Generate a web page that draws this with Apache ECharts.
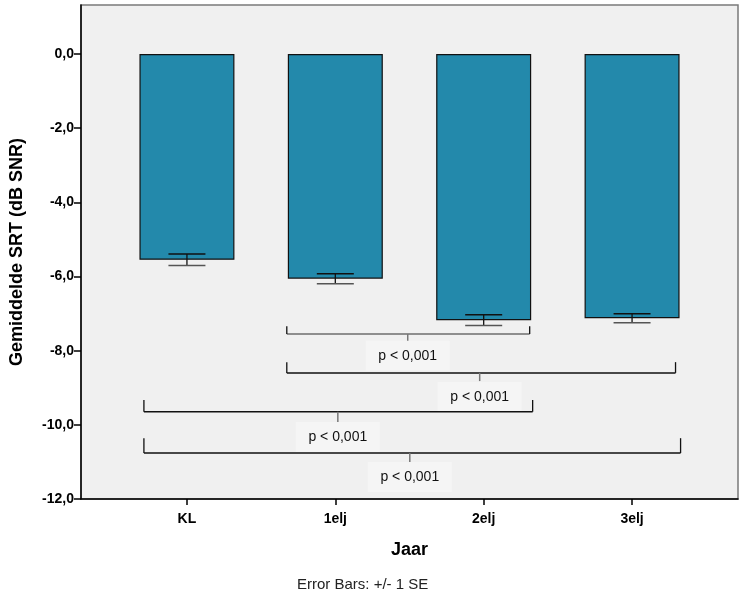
<!DOCTYPE html>
<html>
<head>
<meta charset="utf-8">
<script src="https://cdn.jsdelivr.net/npm/echarts@6/dist/echarts.min.js"></script>
<style>html,body{margin:0;padding:0;background:#fff;}#c{width:744px;height:601px;}</style>
</head>
<body>
<div id="c"></div>
<script>
var categories = ['KL', '1elj', '2elj', '3elj'];
var means = [-5.55, -6.06, -7.18, -7.125];
var standardErrors = [0.155, 0.135, 0.145, 0.12];
var yTicks = [-12, -10, -8, -6, -4, -2, 0];
// brackets: [fromX, toX, lineY, endTopY, tickX, tickBottomY, labelX, labelY]
var bracketSpans = [
  [0.673, 2.31, -7.55, -7.34, 1.488, -7.77, 1.488, -8.14],
  [0.673, 3.293, -8.60, -8.31, 1.973, -8.82, 1.973, -9.25],
  [-0.29, 2.33, -9.65, -9.33, 1.017, -10.03, 1.017, -10.33],
  [-0.29, 3.327, -10.76, -10.36, 1.502, -11.0, 1.502, -11.41]
];
var bracketLabels = ['p < 0,001', 'p < 0,001', 'p < 0,001', 'p < 0,001'];

var chart = echarts.init(document.getElementById('c'), null, {renderer: 'canvas'});
var fmt = function (v) { return v.toFixed(1).replace('.', ','); };
var xIdx = categories.map(function (c, i) { return i; });

var option = {
  animation: false,
  backgroundColor: '#ffffff',
  grid: {
    left: 81, right: 6, top: 5, bottom: 102,
    show: true, backgroundColor: '#f0f0f0', borderColor: '#7a7a7a', borderWidth: 1.5
  },
  xAxis: {
    type: 'value', min: -0.714, max: 3.714,
    splitLine: {show: false},
    axisLine: {show: true, onZero: false, lineStyle: {color: '#000', width: 1.5}},
    axisTick: {show: true, customValues: xIdx, length: 6, lineStyle: {color: '#000', width: 1.5}},
    axisLabel: {
      customValues: xIdx, margin: 13,
      formatter: function (v) { return categories[Math.round(v)]; },
      fontFamily: 'Liberation Sans, Arial', fontWeight: 'bold', fontSize: 14, color: '#000'
    },
    name: 'Jaar', nameLocation: 'middle', nameGap: 42,
    nameTextStyle: {fontFamily: 'Liberation Sans, Arial', fontWeight: 'bold', fontSize: 18, color: '#000'}
  },
  yAxis: {
    type: 'value', min: -12, max: 1.32,
    splitLine: {show: false},
    axisLine: {show: true, onZero: false, lineStyle: {color: '#000', width: 1.5}},
    axisTick: {show: true, customValues: yTicks, length: 7, lineStyle: {color: '#000', width: 1.5}},
    axisLabel: {
      customValues: yTicks, margin: 7, formatter: fmt,
      fontFamily: 'Liberation Sans, Arial', fontWeight: 'bold', fontSize: 14, color: '#000'
    },
    name: 'Gemiddelde SRT (dB SNR)', nameLocation: 'middle', nameGap: 55, nameRotate: 90,
    nameTextStyle: {fontFamily: 'Liberation Sans, Arial', fontWeight: 'bold', fontSize: 18, color: '#000'}
  },
  graphic: [{
    type: 'text', left: 297, top: 577,
    style: {text: 'Error Bars: +/- 1 SE', fontFamily: 'Liberation Sans, Arial', fontSize: 15, fill: '#222'}
  }],
  series: [
    {
      type: 'bar', barWidth: 95,
      data: means.map(function (m, i) { return [i, m]; }),
      itemStyle: {color: '#2389ab', borderColor: '#111', borderWidth: 1.2},
      z: 2
    },
    {
      type: 'custom', z: 5,
      data: means.map(function (m, i) { return [i, m + standardErrors[i], m - standardErrors[i]]; }),
      renderItem: function (params, api) {
        var top = api.coord([api.value(0), api.value(1)]);
        var bot = api.coord([api.value(0), api.value(2)]);
        var hw = 18.5;
        return {
          type: 'group',
          children: [
            {type: 'line', shape: {x1: top[0], y1: top[1], x2: bot[0], y2: bot[1]}, style: {stroke: '#111', lineWidth: 1.3}},
            {type: 'line', shape: {x1: top[0] - hw, y1: top[1], x2: top[0] + hw, y2: top[1]}, style: {stroke: '#111', lineWidth: 1.5}},
            {type: 'line', shape: {x1: bot[0] - hw, y1: bot[1], x2: bot[0] + hw, y2: bot[1]}, style: {stroke: '#555', lineWidth: 1.5}}
          ]
        };
      }
    },
    {
      type: 'custom', z: 6,
      data: bracketSpans.map(function (b, i) { return b.concat([i]); }),
      renderItem: function (params, api) {
        var a = api.coord([api.value(0), api.value(2)]);
        var b = api.coord([api.value(1), api.value(2)]);
        var aTop = api.coord([api.value(0), api.value(3)]);
        var t1 = api.coord([api.value(4), api.value(2)]);
        var t2 = api.coord([api.value(4), api.value(5)]);
        var lc = api.coord([api.value(6), api.value(7)]);
        var idx = api.value(8);
        var lineCol = idx === 0 ? '#6e6e6e' : '#111';
        return {
          type: 'group',
          children: [
            {type: 'line', shape: {x1: a[0], y1: a[1], x2: b[0], y2: b[1]}, style: {stroke: lineCol, lineWidth: 1.5}},
            {type: 'line', shape: {x1: a[0], y1: aTop[1], x2: a[0], y2: a[1]}, style: {stroke: '#111', lineWidth: 1.3}},
            {type: 'line', shape: {x1: b[0], y1: aTop[1], x2: b[0], y2: b[1]}, style: {stroke: '#111', lineWidth: 1.3}},
            {type: 'line', shape: {x1: t1[0], y1: t1[1], x2: t2[0], y2: t2[1]}, style: {stroke: '#777', lineWidth: 1.5}},
            {type: 'rect', shape: {x: lc[0] - 42, y: lc[1] - 15, width: 84, height: 30}, style: {fill: '#f5f5f5'}},
            {type: 'text', x: lc[0], y: lc[1], style: {text: bracketLabels[idx], align: 'center', verticalAlign: 'middle', fontFamily: 'Liberation Sans, Arial', fontSize: 14, fill: '#111'}}
          ]
        };
      }
    }
  ]
};
chart.setOption(option);
</script>
</body>
</html>
